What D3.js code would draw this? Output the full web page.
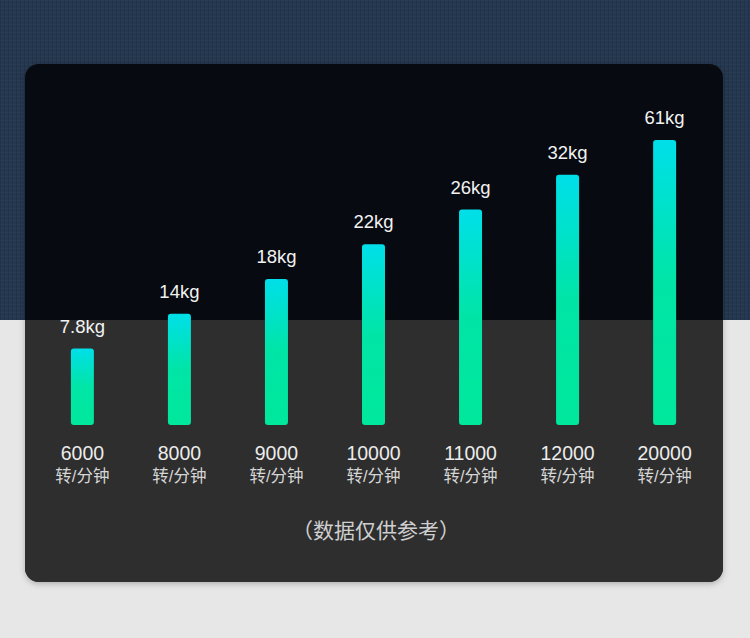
<!DOCTYPE html>
<html>
<head>
<meta charset="utf-8">
<script src="https://cdn.jsdelivr.net/npm/d3@7"></script>
<style>
  html, body { margin: 0; padding: 0; background: #e6e6e6; }
  svg { display: block; }
</style>
</head>
<body>
<svg id="chart"></svg>
<script>
// data
const speeds = ["6000", "8000", "9000", "10000", "11000", "12000", "20000"];
const weights = [7.8, 14, 18, 22, 26, 32, 61];
const unitLabel = "转/分钟";
const weightUnit = "kg";
const note = "（数据仅供参考）";

const width = 750, height = 638;
const card = {x: 25, y: 64, w: 698, h: 518, r: 14};
const split = 320;
const baseline = 425;

const svg = d3.select("#chart")
    .attr("width", width)
    .attr("height", height)
    .attr("font-family", "'Liberation Sans', 'Noto Sans CJK SC', sans-serif");

const defs = svg.append("defs");

// fine woven texture on the navy band
const pat = defs.append("pattern")
    .attr("id", "weave")
    .attr("width", 4).attr("height", 4)
    .attr("patternUnits", "userSpaceOnUse");
pat.append("rect").attr("width", 4).attr("height", 4).attr("fill", "#25374f");
pat.append("rect").attr("width", 4).attr("height", 1).attr("fill", "#2a3d57");
pat.append("rect").attr("width", 1).attr("height", 4).attr("fill", "#213249");

const grad = defs.append("linearGradient")
    .attr("id", "barGrad")
    .attr("x1", 0).attr("y1", 0).attr("x2", 0).attr("y2", 1);
grad.append("stop").attr("offset", "0%").attr("stop-color", "#00dfe9");
grad.append("stop").attr("offset", "50%").attr("stop-color", "#00e5a6");
grad.append("stop").attr("offset", "100%").attr("stop-color", "#00e89c");

const clip = defs.append("clipPath").attr("id", "cardClip");
clip.append("rect")
    .attr("x", card.x).attr("y", card.y)
    .attr("width", card.w).attr("height", card.h)
    .attr("rx", card.r);

const shadow = defs.append("filter").attr("id", "shadow")
    .attr("x", "-5%").attr("y", "-5%").attr("width", "110%").attr("height", "110%");
shadow.append("feDropShadow")
    .attr("dx", 0).attr("dy", 2).attr("stdDeviation", 3)
    .attr("flood-color", "#000").attr("flood-opacity", 0.25);

// page background: navy on top, light grey below
svg.append("rect").attr("width", width).attr("height", split).attr("fill", "url(#weave)");
svg.append("rect").attr("y", split).attr("width", width).attr("height", height - split).attr("fill", "#e7e7e7");

// card
svg.append("rect")
    .attr("x", card.x).attr("y", card.y)
    .attr("width", card.w).attr("height", card.h)
    .attr("rx", card.r)
    .attr("fill", "#2e2e2e")
    .attr("filter", "url(#shadow)");
const cg = svg.append("g").attr("clip-path", "url(#cardClip)");
cg.append("rect")
    .attr("x", card.x).attr("y", card.y)
    .attr("width", card.w).attr("height", split - card.y)
    .attr("fill", "#070a10");
cg.append("rect")
    .attr("x", card.x).attr("y", split)
    .attr("width", card.w).attr("height", card.y + card.h - split)
    .attr("fill", "#2e2e2e");

// scales
const x = d3.scaleBand()
    .domain(speeds)
    .range([34, 713])
    .paddingInner(0.763)
    .paddingOuter(0.38);

// bars in the picture grow by rank, not in proportion to the value
const rank = d3.scaleLinear()
    .domain([-2.2, weights.length - 1])
    .range([baseline, 140]);

const data = speeds.map((s, i) => ({speed: s, weight: weights[i], i: i}));

const g = svg.append("g");

g.selectAll("rect.bar")
    .data(data)
    .enter().append("rect")
    .attr("class", "bar")
    .attr("x", d => x(d.speed))
    .attr("y", d => rank(d.i))
    .attr("width", x.bandwidth())
    .attr("height", d => baseline - rank(d.i))
    .attr("rx", 3)
    .attr("fill", "url(#barGrad)");

g.selectAll("text.val")
    .data(data)
    .enter().append("text")
    .attr("class", "val")
    .attr("x", d => x(d.speed) + x.bandwidth() / 2)
    .attr("y", d => rank(d.i) - 16)
    .attr("text-anchor", "middle")
    .attr("font-size", 18.5)
    .attr("fill", "#f2f2f2")
    .text(d => d.weight + weightUnit);

const lab = g.selectAll("g.lab")
    .data(data)
    .enter().append("g")
    .attr("class", "lab")
    .attr("transform", d => `translate(${x(d.speed) + x.bandwidth() / 2},0)`);

lab.append("text")
    .attr("y", 460)
    .attr("text-anchor", "middle")
    .attr("font-size", 19.5)
    .attr("fill", "#ececec")
    .text(d => d.speed);

lab.append("text")
    .attr("y", 482)
    .attr("text-anchor", "middle")
    .attr("font-size", 16.5)
    .attr("fill", "#d6d6d6")
    .text(unitLabel);

svg.append("text")
    .attr("x", 376)
    .attr("y", 538)
    .attr("text-anchor", "middle")
    .attr("font-size", 21)
    .attr("fill", "#cfcfcf")
    .text(note);
</script>
</body>
</html>
